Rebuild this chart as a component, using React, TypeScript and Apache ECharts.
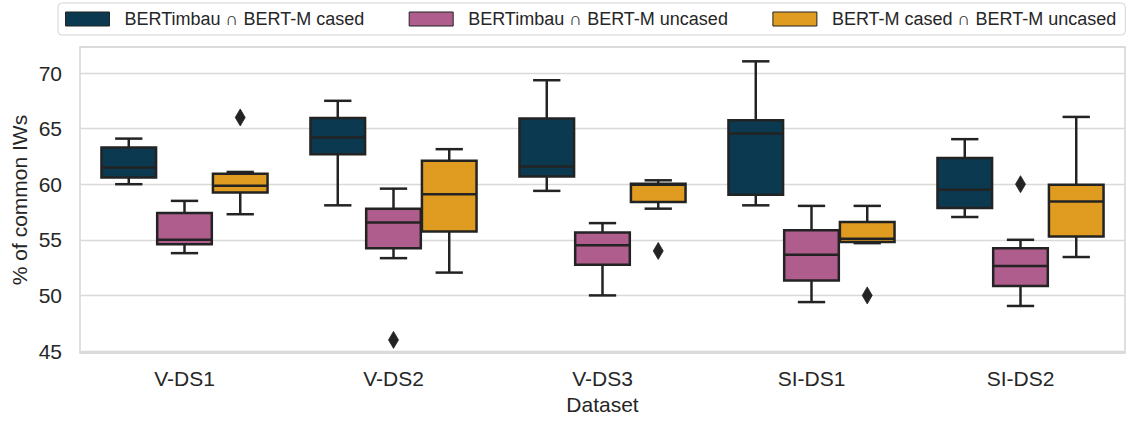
import React, { useEffect, useRef } from "react";
import * as echarts from "echarts";

// Datasets on the x axis
const categories = ["V-DS1", "V-DS2", "V-DS3", "SI-DS1", "SI-DS2"];

// Pairwise comparisons (hue groups)
const seriesNames = [
  "BERTimbau \u2229 BERT-M cased",
  "BERTimbau \u2229 BERT-M uncased",
  "BERT-M cased \u2229 BERT-M uncased",
];
const seriesColors = ["#0b3a50", "#ae5d8d", "#df9c20"];

// Box statistics per dataset: [lower whisker, Q1, median, Q3, upper whisker]
const casedBoxes = [
  [60.0, 60.6, 61.5, 63.3, 64.1],
  [58.1, 62.7, 64.2, 65.95, 67.5],
  [59.4, 60.7, 61.6, 65.9, 69.35],
  [58.1, 59.05, 64.55, 65.75, 71.05],
  [57.05, 57.85, 59.5, 62.35, 64.05],
];
const uncasedBoxes = [
  [53.8, 54.6, 55.0, 57.4, 58.5],
  [53.35, 54.25, 56.55, 57.8, 59.6],
  [50.0, 52.75, 54.5, 55.65, 56.5],
  [49.4, 51.35, 53.65, 55.85, 58.05],
  [49.05, 50.85, 52.65, 54.25, 55.0],
];
const casedUncasedBoxes = [
  [57.3, 59.25, 59.85, 60.95, 61.1],
  [52.05, 55.75, 59.1, 62.1, 63.15],
  [57.8, 58.4, 59.95, 60.05, 60.35],
  [54.7, 54.8, 55.1, 56.6, 58.05],
  [53.45, 55.3, 58.45, 59.95, 66.05],
];

// Outliers: [dataset index, hue index, value]
const outliers = [
  [0, 2, 66.0],
  [1, 1, 46.0],
  [2, 2, 54.0],
  [3, 2, 50.0],
  [4, 1, 60.0],
];

// Y axis ticks
const yMin = 45;
const yMax = 70;
const yStep = 5;

const FONT = "'Liberation Sans', Arial, Helvetica, sans-serif";
const INK = "#262626";
const LINE = "#232323";
const LW = 2.5;

function boxRenderer(hue: number, color: string) {
  return (params: any, api: any) => {
    const cat = api.value(0);
    const band = api.size([1, 0])[0];
    const slot = (band * 0.8) / 3;
    const w = slot * 0.98;
    const cx = api.coord([cat, api.value(3)])[0] + (hue - 1) * slot;
    const yLow = api.coord([cat, api.value(1)])[1];
    const yQ1 = api.coord([cat, api.value(2)])[1];
    const yMed = api.coord([cat, api.value(3)])[1];
    const yQ3 = api.coord([cat, api.value(4)])[1];
    const yHigh = api.coord([cat, api.value(5)])[1];
    const cap = w / 4;
    const stroke = { stroke: LINE, lineWidth: LW };
    return {
      type: "group",
      children: [
        { type: "line", shape: { x1: cx, y1: yHigh, x2: cx, y2: yQ3 }, style: stroke },
        { type: "line", shape: { x1: cx, y1: yQ1, x2: cx, y2: yLow }, style: stroke },
        { type: "line", shape: { x1: cx - cap, y1: yHigh, x2: cx + cap, y2: yHigh }, style: stroke },
        { type: "line", shape: { x1: cx - cap, y1: yLow, x2: cx + cap, y2: yLow }, style: stroke },
        {
          type: "rect",
          shape: { x: cx - w / 2, y: yQ3, width: w, height: yQ1 - yQ3 },
          style: { fill: color, stroke: LINE, lineWidth: LW },
        },
        { type: "line", shape: { x1: cx - w / 2, y1: yMed, x2: cx + w / 2, y2: yMed }, style: stroke },
      ],
    };
  };
}

function outlierRenderer(params: any, api: any) {
  const cat = api.value(0);
  const hue = api.value(1);
  const band = api.size([1, 0])[0];
  const slot = (band * 0.8) / 3;
  const p = api.coord([cat, api.value(2)]);
  const cx = p[0] + (hue - 1) * slot;
  const cy = p[1];
  const hw = 5;
  const hh = 8.5;
  return {
    type: "polygon",
    shape: {
      points: [
        [cx, cy - hh],
        [cx + hw, cy],
        [cx, cy + hh],
        [cx - hw, cy],
      ],
    },
    style: { fill: LINE, stroke: LINE, lineWidth: 0.8 },
  };
}

export default function App() {
  const ref = useRef<HTMLDivElement>(null);

  useEffect(() => {
    document.body.style.margin = "0";
    if (!ref.current) return;
    const chart = echarts.init(ref.current, undefined, { renderer: "svg" });

    const boxSets = [casedBoxes, uncasedBoxes, casedUncasedBoxes];

    const boxSeries = boxSets.map((set, hue) => ({
      type: "custom",
      name: seriesNames[hue],
      data: set.map((v, i) => [i, ...v]),
      encode: { x: 0, y: [1, 2, 3, 4, 5] },
      itemStyle: { color: seriesColors[hue] },
      renderItem: boxRenderer(hue, seriesColors[hue]),
      z: 3,
    }));

    chart.setOption({
      animation: false,
      textStyle: { fontFamily: FONT },
      legend: {
        left: 58,
        top: 3,
        padding: [7, 9, 7, 7],
        itemGap: 44.5,
        itemWidth: 44,
        itemHeight: 14,
        borderColor: "#d4d4d4",
        borderWidth: 1,
        borderRadius: 4,
        textStyle: { fontSize: 18, color: INK, fontFamily: FONT, padding: [0, 0, 0, 10] },
        data: seriesNames.map((n, i) => ({
          name: n,
          icon: "rect",
          itemStyle: { color: seriesColors[i], borderColor: LINE, borderWidth: 1 },
        })),
      },
      grid: { left: 80, right: 1, top: 73, bottom: 70 },
      xAxis: {
        type: "category",
        data: categories,
        axisLine: { show: false },
        axisTick: { show: false },
        axisLabel: { fontSize: 21, color: INK, margin: 17, fontFamily: FONT },
        splitLine: { show: false },
        name: "Dataset",
        nameLocation: "middle",
        nameGap: 43,
        nameTextStyle: { fontSize: 21, color: INK, fontFamily: FONT },
      },
      yAxis: {
        type: "value",
        min: yMin,
        max: yMax,
        interval: yStep,
        axisLine: { show: false },
        axisTick: { show: false },
        axisLabel: { fontSize: 21, color: INK, margin: 18, fontFamily: FONT },
        splitLine: { show: true, lineStyle: { color: "#d9d9d9", width: 1.3 } },
      },
      graphic: [
        {
          type: "rect",
          z: -1,
          shape: { x: 80, y: 47, width: 1045, height: 306 },
          style: { fill: "none", stroke: "#cfcfcf", lineWidth: 1.3 },
        },
        {
          type: "text",
          x: 19,
          y: 200,
          rotation: Math.PI / 2,
          style: {
            text: "% of common IWs",
            fontSize: 21,
            fontFamily: FONT,
            fill: INK,
            align: "center",
            verticalAlign: "middle",
          },
        },
      ],
      series: [
        ...boxSeries,
        {
          type: "custom",
          name: "outliers",
          data: outliers,
          encode: { x: 0, y: 2 },
          renderItem: outlierRenderer,
          z: 4,
        },
      ],
    });

    return () => chart.dispose();
  }, []);

  return (
    <div
      ref={ref}
      style={{ position: "absolute", left: 0, top: 0, width: 1126, height: 421 }}
    />
  );
}
